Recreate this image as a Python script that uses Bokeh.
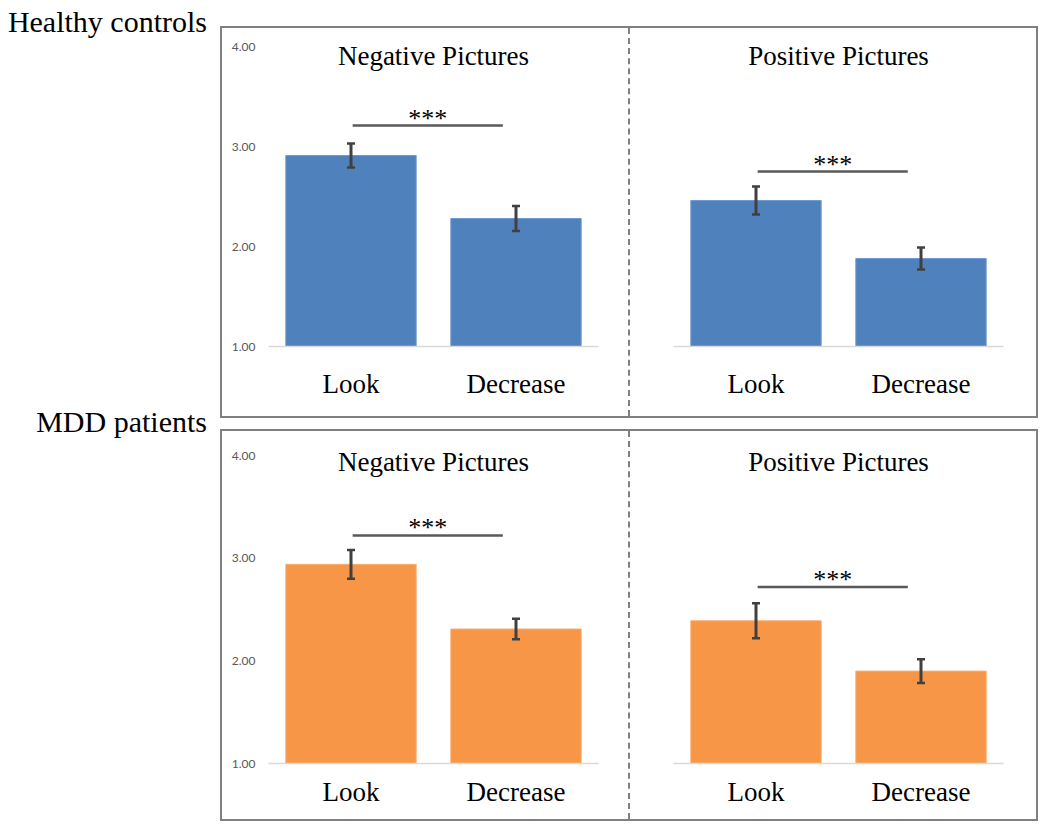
from bokeh.plotting import figure
from bokeh.models import (ColumnDataSource, FactorRange, Range1d, FixedTicker,
                          NumeralTickFormatter, Whisker, TeeHead, Label, Div, Spacer)
from bokeh.layouts import row, column
from bokeh.embed import file_html
from bokeh.resources import INLINE

# ---------------- data ----------------
categories = ["Look", "Decrease"]
panel_titles = ["Negative Pictures", "Positive Pictures"]
group_labels = ["Healthy controls", "MDD patients"]
y_ticks = [1, 2, 3, 4]

hc_neg_mean = [2.91, 2.28]
hc_neg_se = [0.12, 0.125]
hc_pos_mean = [2.46, 1.88]
hc_pos_se = [0.14, 0.11]

mdd_neg_mean = [2.94, 2.31]
mdd_neg_se = [0.14, 0.10]
mdd_pos_mean = [2.39, 1.90]
mdd_pos_se = [0.17, 0.115]

sig_text = "***"
sig_level_hc = [3.21, 2.75]
sig_level_mdd = [3.22, 2.72]
sig_x_start = 0.51
sig_x_end = 1.42

BLUE, BLUE_EDGE = "#4f81bd", "#6f9ad2"
ORANGE, ORANGE_EDGE = "#f79646", "#f9ad72"
GRAY = "#808080"
SERIF = "Liberation Serif"


def make_panel(title, means, ses, sig_y, fill, edge, show_y, width,
               left, top_pad, frame_h, standoff, title_y, star_lift, styles=None):
    height = 388
    # the frame starts at the canvas top; 4.00 sits top_pad pixels below it
    y_end = 4 + top_pad * 3.0 / frame_h
    p = figure(width=width, height=height, x_range=FactorRange(*categories),
               y_range=Range1d(1, y_end), output_backend="svg", toolbar_location=None,
               min_border_left=left, min_border_right=width - left - 330,
               min_border_top=0, min_border_bottom=height - top_pad - frame_h,
               background_fill_color=None, border_fill_color=None,
               outline_line_color=None, styles=styles or {})
    src = ColumnDataSource(dict(
        cat=categories, mean=means,
        upper=[m + s for m, s in zip(means, ses)],
        lower=[m - s for m, s in zip(means, ses)]))
    p.vbar(x="cat", top="mean", bottom=1, width=0.79, source=src,
           fill_color=fill, line_color=edge, line_width=1)
    p.add_layout(Whisker(base="cat", upper="upper", lower="lower", source=src,
                         level="annotation",
                         line_color="#404040", line_width=3,
                         upper_head=TeeHead(size=8, line_color="#404040", line_width=2.5),
                         lower_head=TeeHead(size=8, line_color="#404040", line_width=2.5)))
    p.segment(x0=[sig_x_start], y0=[sig_y], x1=[sig_x_end], y1=[sig_y],
              line_color="#595959", line_width=2.5)
    p.add_layout(Label(x=(sig_x_start + sig_x_end) / 2, y=sig_y + star_lift, text=sig_text,
                       text_align="center", text_baseline="alphabetic",
                       text_font=SERIF, text_font_size="26px", text_color="black"))
    p.add_layout(Label(x=1.0, y=title_y, text=title, text_align="center",
                       text_baseline="alphabetic", text_font=SERIF,
                       text_font_size="27px", text_color="black"))
    p.xgrid.visible = False
    p.ygrid.visible = False
    xa = p.xaxis[0]
    xa.axis_line_color = "#d9d9d9"
    xa.axis_line_width = 1.5
    xa.major_tick_line_color = None
    xa.minor_tick_line_color = None
    xa.major_tick_out = 0
    xa.major_label_standoff = standoff
    xa.major_label_text_font = SERIF
    xa.major_label_text_font_size = "27px"
    xa.major_label_text_color = "black"
    ya = p.yaxis[0]
    if show_y:
        ya.ticker = FixedTicker(ticks=y_ticks)
        ya.formatter = NumeralTickFormatter(format="0.00")
        ya.axis_line_color = None
        ya.major_tick_line_color = None
        ya.minor_tick_line_color = None
        ya.major_tick_out = 0
        ya.major_label_standoff = 13
        ya.major_label_text_font = "Lato"
        ya.major_label_text_font_size = "12px"
        ya.major_label_text_color = "#595959"
    else:
        ya.visible = False
    return p


dash_style = {"border-right": f"2px dashed {GRAY}"}

tl = make_panel(panel_titles[0], hc_neg_mean, hc_neg_se, sig_level_hc[0], BLUE, BLUE_EDGE,
                True, 408, 46, 18, 300, 22, 3.91, 0.075, dash_style)
tr = make_panel(panel_titles[1], hc_pos_mean, hc_pos_se, sig_level_hc[1], BLUE, BLUE_EDGE,
                False, 406, 43, 18, 300, 22, 3.91, 0.075)
bl = make_panel(panel_titles[0], mdd_neg_mean, mdd_neg_se, sig_level_mdd[0], ORANGE, ORANGE_EDGE,
                True, 408, 46, 24, 308, 13, 3.94, 0.075, dash_style)
br = make_panel(panel_titles[1], mdd_pos_mean, mdd_pos_se, sig_level_mdd[1], ORANGE, ORANGE_EDGE,
                False, 406, 43, 24, 308, 13, 3.94, 0.075)

box = {"border": f"2px solid {GRAY}"}
row1 = row(tl, tr, styles=box)
row2 = row(bl, br, styles=box)


def label_div(txt):
    html = ('<div style="width:202px;text-align:right;font-family:\'Liberation Serif\';'
            'font-size:30px;line-height:33px;white-space:nowrap;color:black;">'
            + txt + '</div>')
    return Div(text=html, width=210, height=33)


left_col = column(label_div(group_labels[0]), Spacer(width=210, height=357),
                  label_div(group_labels[1]))
right_col = column(Spacer(height=26), row1, Spacer(height=11), row2)
layout = row(left_col, right_col)

open("out.html", "w").write(file_html(layout, INLINE))
